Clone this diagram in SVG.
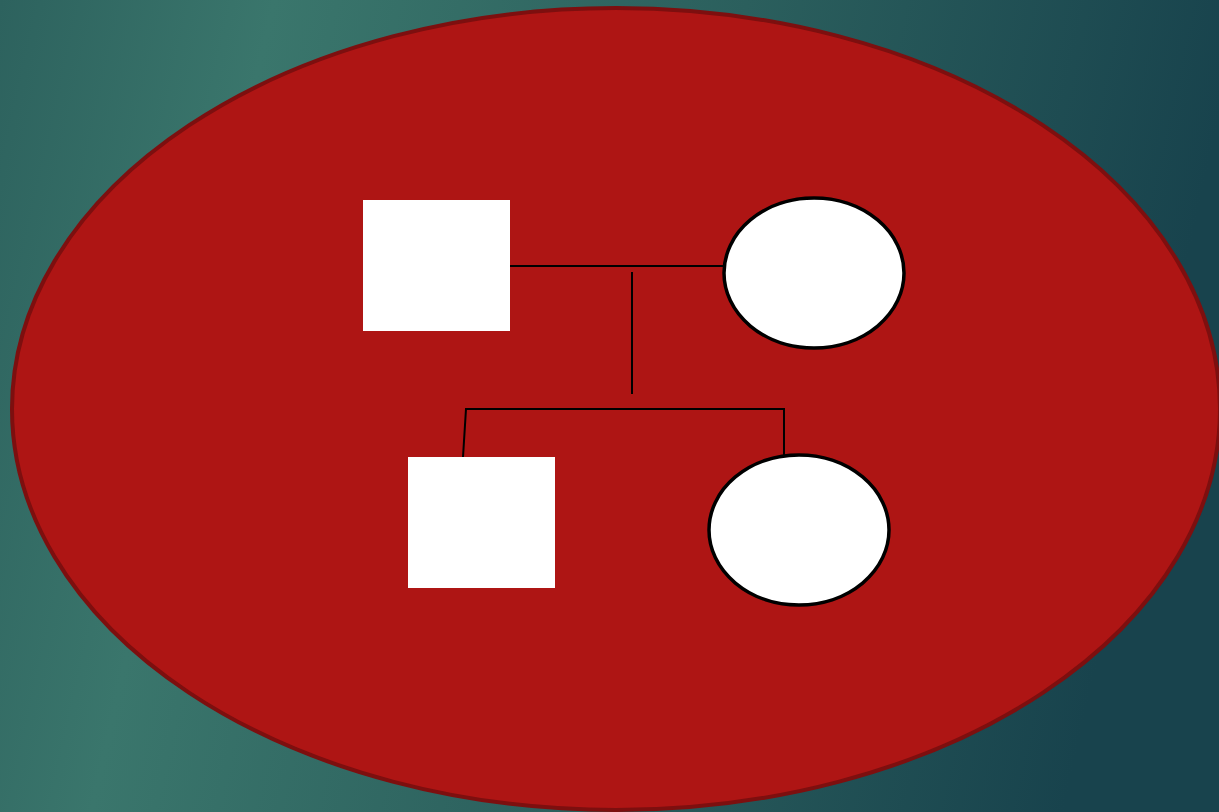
<svg xmlns="http://www.w3.org/2000/svg" width="1219" height="812" viewBox="0 0 1219 812">
<defs>
<linearGradient id="bg" x1="0" y1="0" x2="1" y2="0.15">
<stop offset="0" stop-color="#2d625e"/>
<stop offset="0.22" stop-color="#3a766c"/>
<stop offset="0.6" stop-color="#2b5f5d"/>
<stop offset="1" stop-color="#18434d"/>
</linearGradient>
<style>
.sq{fill:#ffffff;}
.ci{fill:#ffffff;stroke:#000000;stroke-width:3.5;}
.ln{fill:none;stroke:#000000;stroke-width:2;}
</style>
</defs>
<rect x="0" y="0" width="1219" height="812" fill="url(#bg)"/>
<ellipse id="background-ellipse" cx="616" cy="409" rx="604" ry="401" fill="#ae1514" stroke="#7d0f0f" stroke-width="4"/>
<g id="connectors">
<line class="ln" x1="510" y1="266" x2="724" y2="266"/>
<line class="ln" x1="632" y1="272" x2="632" y2="394"/>
<polyline class="ln" points="463,457 466,409 784,409 784,456"/>
</g>
<g id="father"><rect class="sq" x="363" y="200" width="147" height="131"/></g>
<g id="mother"><ellipse class="ci" cx="814" cy="273" rx="90" ry="75"/></g>
<g id="son"><rect class="sq" x="408" y="457" width="147" height="131"/></g>
<g id="daughter"><ellipse class="ci" cx="799" cy="530" rx="90" ry="75"/></g>
</svg>
